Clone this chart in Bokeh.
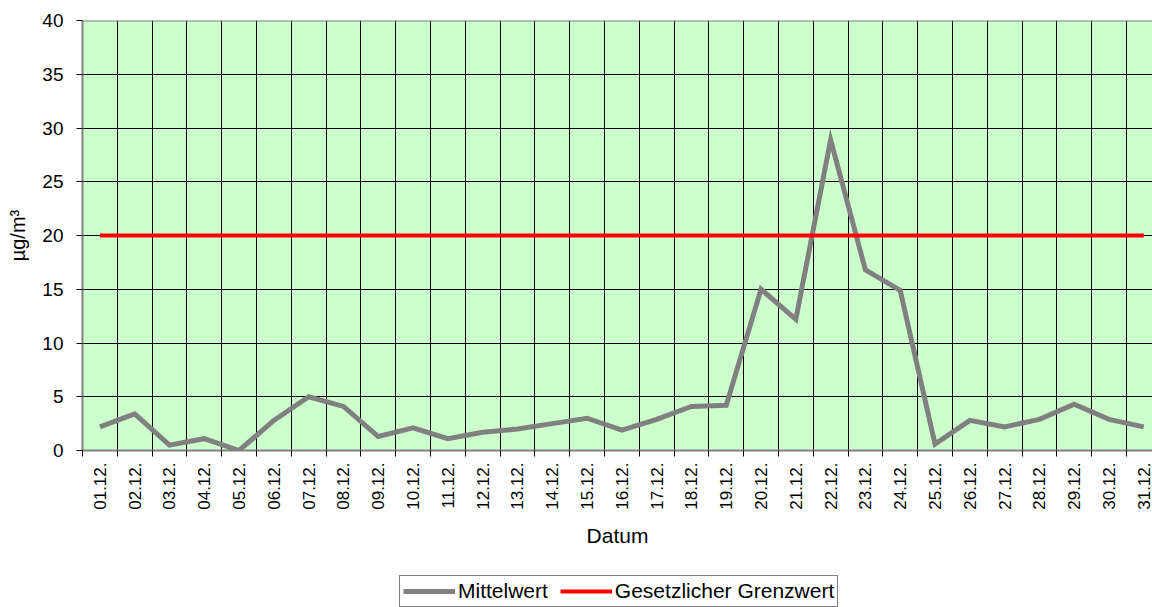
from bokeh.plotting import figure
from bokeh.models import FixedTicker, Legend, LegendItem, Range1d, Span
from bokeh.layouts import column
from bokeh.embed import file_html
from bokeh.resources import INLINE
import math

# ---- data ----
dates = ["01.12.", "02.12.", "03.12.", "04.12.", "05.12.", "06.12.", "07.12.", "08.12.",
         "09.12.", "10.12.", "11.12.", "12.12.", "13.12.", "14.12.", "15.12.", "16.12.",
         "17.12.", "18.12.", "19.12.", "20.12.", "21.12.", "22.12.", "23.12.", "24.12.",
         "25.12.", "26.12.", "27.12.", "28.12.", "29.12.", "30.12.", "31.12."]
mittelwert = [2.2, 3.4, 0.5, 1.1, 0.0, 2.8, 5.0, 4.1, 1.3, 2.1, 1.1, 1.7, 2.0, 2.5, 3.0, 1.9,
              2.9, 4.1, 4.2, 15.0, 12.2, 28.9, 16.8, 14.9, 0.6, 2.8, 2.2, 2.9, 4.3, 2.9, 2.2]
grenzwert = 20
y_ticks = [0, 5, 10, 15, 20, 25, 30, 35, 40]
series_names = ["Mittelwert", "Gesetzlicher Grenzwert"]

FONT = "Liberation Sans"
GREY = "#808080"
RED = "#FF0000"

x = list(range(1, len(dates) + 1))
boundaries = [i + 0.5 for i in range(0, len(dates) + 1)]

p = figure(frame_width=1070, frame_height=430, output_backend="svg", toolbar_location=None,
           x_range=Range1d(0.5, 31.25), y_range=Range1d(0, 40),
           min_border_left=82, min_border_right=0, min_border_top=20,
           min_border_bottom=110)
p.background_fill_color = "#CCFFCC"
p.border_fill_color = "white"
p.outline_line_color = None

# x axis: labels at centres, ticks/grid at category boundaries
p.xaxis.ticker = FixedTicker(ticks=x, minor_ticks=boundaries)
p.xaxis.major_label_overrides = {xi: d for xi, d in zip(x, dates)}
p.xaxis.major_label_orientation = math.pi / 2
p.xaxis.major_tick_out = 6
p.xaxis.major_tick_in = 0
p.xaxis.major_tick_line_color = None
p.xaxis.minor_tick_out = 6
p.xaxis.minor_tick_in = 0
p.xaxis.minor_tick_line_color = "black"
p.xaxis.axis_line_color = GREY
p.xaxis.axis_line_width = 2
p.xaxis.major_label_standoff = 6
p.xaxis.major_label_text_font = FONT
p.xaxis.major_label_text_font_size = "17px"
p.xaxis.major_label_text_color = "black"
p.xaxis.axis_label = "Datum"
p.xaxis.axis_label_text_font = FONT
p.xaxis.axis_label_text_font_size = "21px"
p.xaxis.axis_label_text_font_style = "normal"
p.xaxis.axis_label_text_color = "black"
p.xaxis.axis_label_standoff = 11

p.xgrid.grid_line_color = None
p.xgrid.minor_grid_line_color = "black"
p.xgrid.minor_grid_line_width = 1

# y axis
p.yaxis.ticker = FixedTicker(ticks=y_ticks, minor_ticks=[])
p.yaxis.major_tick_out = 6
p.yaxis.major_tick_in = 0
p.yaxis.major_tick_line_color = "black"
p.yaxis.axis_line_color = GREY
p.yaxis.axis_line_width = 2
p.yaxis.major_label_standoff = 13
p.yaxis.major_label_text_font = FONT
p.yaxis.major_label_text_font_size = "19px"
p.yaxis.major_label_text_color = "black"
p.yaxis.axis_label = "µg/m³"
p.yaxis.axis_label_text_font = FONT
p.yaxis.axis_label_text_font_size = "20px"
p.yaxis.axis_label_text_font_style = "normal"
p.yaxis.axis_label_text_color = "black"
p.yaxis.axis_label_standoff = 10
p.ygrid.grid_line_color = "black"
p.ygrid.grid_line_width = 1

# top border of plot area
p.add_layout(Span(location=40, dimension="width", line_color=GREY, line_width=2))

p.line(x, mittelwert, line_color=GREY, line_width=5, line_join="miter")
p.line([x[0], x[-1]], [grenzwert, grenzwert], line_color=RED, line_width=4)

# ---- legend strip below the chart ----
lf = figure(width=1152, height=47, output_backend="svg", toolbar_location=None,
            x_range=Range1d(0.5, 31.25), y_range=Range1d(0, 40),
            min_border=0)
lf.axis.visible = False
lf.grid.visible = False
lf.outline_line_color = None
lf.background_fill_color = "white"
lf.border_fill_color = "white"
l_mw = lf.line(x, mittelwert, line_color=GREY, line_width=5, visible=False)
l_gw = lf.line([x[0], x[-1]], [grenzwert, grenzwert], line_color=RED, line_width=4,
               visible=False)

legend = Legend(items=[LegendItem(label=series_names[0], renderers=[l_mw]),
                       LegendItem(label=series_names[1], renderers=[l_gw])],
                orientation="horizontal", location=(317, 0),
                border_line_color="black", border_line_width=1,
                background_fill_color="white", background_fill_alpha=1,
                inactive_fill_alpha=0,
                label_text_font=FONT, label_text_font_size="21px",
                label_text_color="black",
                glyph_width=52, glyph_height=20, label_height=20, label_standoff=3,
                padding=3, spacing=12, margin=0)
lf.add_layout(legend)

open("out.html", "w").write(file_html(column(p, lf, spacing=0), INLINE))
